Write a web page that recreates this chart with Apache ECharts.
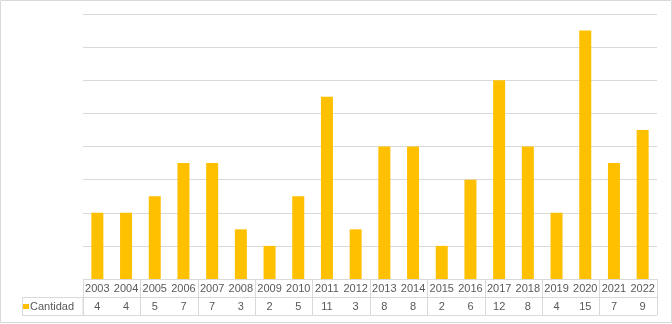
<!DOCTYPE html>
<html><head><meta charset="utf-8">
<script src="https://cdn.jsdelivr.net/npm/echarts@6/dist/echarts.min.js"></script>
<style>html,body{margin:0;padding:0;background:#fff}#c{width:672px;height:324px}</style>
</head><body><div id="c"></div>
<script>
const years = ['2003','2004','2005','2006','2007','2008','2009','2010','2011','2012','2013','2014','2015','2016','2017','2018','2019','2020','2021','2022'];
const cantidad = [4,4,5,7,7,3,2,5,11,3,8,8,2,6,12,8,4,15,7,9];
const seriesName = 'Cantidad';
const yMax = 16, yStep = 2;

const chart = echarts.init(document.getElementById('c'), null, {renderer:'canvas'});
const grey = '#d9d9d9', txt = '#595959', font = 'Liberation Sans';
chart.setOption({
  animation:false,
  textStyle:{fontFamily:font},
  legend:{data:[seriesName], left:23, top:301, icon:'rect', itemWidth:6, itemHeight:5, itemGap:0,
    textStyle:{color:txt, fontSize:11, fontFamily:font, padding:[0,0,0,-4]}, padding:0, selectedMode:false},
  grid:[
    {left:83, right:15, top:14, bottom:45},
    {left:83, right:15, top:279, height:36}
  ],
  xAxis:[
    {type:'category', data:years, gridIndex:0, axisLine:{show:false}, axisTick:{show:false},
     axisLabel:{margin:1, color:txt, fontSize:11, fontFamily:font, lineHeight:18, interval:0,
       formatter:(v,i)=> v + '\n' + cantidad[i]}},
    {type:'category', data:years, gridIndex:1, axisLine:{show:false}, axisTick:{show:false},
     axisLabel:{show:false}, splitLine:{show:true, lineStyle:{color:grey, width:1}}}
  ],
  yAxis:[
    {type:'value', gridIndex:0, min:0, max:yMax, interval:yStep, axisLabel:{show:false},
     axisLine:{show:false}, axisTick:{show:false}, splitLine:{lineStyle:{color:grey, width:1}}},
    {type:'value', gridIndex:1, min:0, max:2, interval:1, axisLabel:{show:false},
     axisLine:{show:false}, axisTick:{show:false}, splitLine:{show:true, lineStyle:{color:grey, width:1}}}
  ],
  series:[{name:seriesName, type:'bar', data:cantidad, barWidth:12, itemStyle:{color:'#FFC000'},
    xAxisIndex:0, yAxisIndex:0}],
  graphic:[
    {type:'rect', shape:{x:0.5, y:0.5, width:671, height:322}, style:{fill:'none', stroke:grey, lineWidth:1}, silent:true},
    {type:'rect', shape:{x:22.5, y:297.5, width:60.5, height:18}, style:{fill:'none', stroke:grey, lineWidth:1}, silent:true, z:-1}
  ]
});
</script></body></html>
